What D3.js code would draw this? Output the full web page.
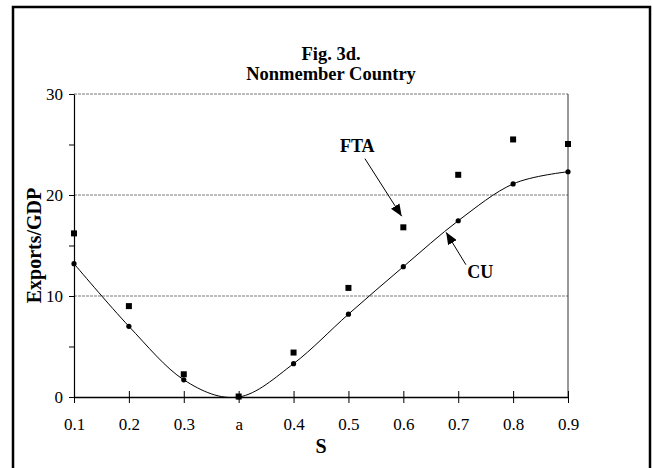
<!DOCTYPE html>
<html><head><meta charset="utf-8">
<script src="https://cdn.jsdelivr.net/npm/d3@7/dist/d3.min.js"></script>
<style>body{margin:0;background:#fff}svg{display:block;font-family:"Liberation Serif","Times New Roman",serif}</style>
</head><body><div id="chart"></div>
<script>
const categories = ["0.1","0.2","0.3","a","0.4","0.5","0.6","0.7","0.8","0.9"];
const cuValues  = [13.2, 7.0, 1.7, 0.0, 3.3, 8.2, 12.9, 17.45, 21.1, 22.3];
const ftaValues = [16.2, 9.0, 2.25, 0.05, 4.4, 10.8, 16.8, 22.0, 25.5, 25.05];
const yTicks = [0, 10, 20, 30];
const yMinorTicks = [0, 5, 10, 15, 20, 25, 30];
const gridValues = [10, 20, 30];
// annotations in data space: [category index, value]
const annotations = [
  {label:"FTA", text:[5.16, 24.3], from:[5.30, 23.6], to:[5.97, 17.9]},
  {label:"CU",  text:[7.40, 11.8], from:[7.14, 13.1], to:[6.78, 16.3]}
];

const W = 653, H = 468;
const svg = d3.select("#chart").append("svg").attr("width", W).attr("height", H);

// outer frame
svg.append("rect").attr("x", 13).attr("y", 7).attr("width", 637).attr("height", 480)
  .attr("fill", "none").attr("stroke", "#000").attr("stroke-width", 2.5);

const pL = 74, pR = 568, pT = 94, pB = 397;
const x = d3.scalePoint().domain(categories).range([pL, pR]);
const xi = d3.scaleLinear().domain([0, categories.length - 1]).range([pL, pR]);
const y = d3.scaleLinear().domain([0, 30]).range([pB, pT]);

const defs = svg.append("defs");
defs.append("clipPath").attr("id", "plotclip")
  .append("rect").attr("x", pL).attr("y", pT).attr("width", pR - pL).attr("height", pB - pT);

// gridlines
svg.append("g").selectAll("line").data(gridValues).join("line")
  .attr("x1", pL).attr("x2", pR).attr("y1", d => y(d)).attr("y2", d => y(d))
  .attr("stroke", "#7a7a7a").attr("stroke-width", 1).attr("stroke-dasharray", "3,1");

// right plot border
svg.append("line").attr("x1", pR).attr("x2", pR).attr("y1", pT).attr("y2", pB)
  .attr("stroke", "#333").attr("stroke-width", 1);

// y axis
const yAxis = svg.append("g").attr("transform", `translate(${pL},0)`)
  .call(d3.axisLeft(y).tickValues(yMinorTicks).tickSize(5).tickSizeOuter(0).tickFormat(d => yTicks.includes(d) ? d : ""));
yAxis.select(".domain").attr("stroke", "#000").attr("stroke-width", 1.2);
yAxis.selectAll(".tick line").attr("stroke", "#000");
yAxis.selectAll(".tick text").attr("font-family", "Liberation Serif").attr("font-size", 17).attr("fill", "#000").attr("x", -11);

// x axis
const xAxis = svg.append("g").attr("transform", `translate(0,${pB})`)
  .call(d3.axisBottom(x).tickSize(6).tickSizeOuter(0));
xAxis.select(".domain").attr("stroke", "#000").attr("stroke-width", 1.6);
xAxis.selectAll(".tick line").attr("stroke", "#000").attr("y1", -6).attr("y2", 6);
xAxis.selectAll(".tick text").attr("font-family", "Liberation Serif").attr("font-size", 17).attr("fill", "#000")
  .attr("dy", null).attr("y", 33);

// CU smooth line
const line = d3.line().x((d, i) => x(categories[i])).y(d => y(d)).curve(d3.curveCardinal.tension(0));
svg.append("path").datum(cuValues).attr("d", line).attr("clip-path", "url(#plotclip)")
  .attr("fill", "none").attr("stroke", "#000").attr("stroke-width", 1);

// CU markers
svg.append("g").selectAll("circle").data(cuValues).join("circle")
  .attr("cx", (d, i) => x(categories[i])).attr("cy", d => y(d)).attr("r", 2.6).attr("fill", "#000");

// FTA markers
svg.append("g").selectAll("rect").data(ftaValues).join("rect")
  .attr("x", (d, i) => x(categories[i]) - 3).attr("y", d => y(d) - 3)
  .attr("width", 6).attr("height", 6).attr("fill", "#000");

// arrow marker
defs.append("marker").attr("id", "arrow").attr("viewBox", "0 0 12 10")
  .attr("refX", 12).attr("refY", 5).attr("markerWidth", 12).attr("markerHeight", 10)
  .attr("markerUnits", "userSpaceOnUse").attr("orient", "auto")
  .append("path").attr("d", "M0,0 L12,5 L0,10 Z").attr("fill", "#000");

const ann = svg.append("g");
annotations.forEach(a => {
  ann.append("line").attr("x1", xi(a.from[0])).attr("y1", y(a.from[1]))
    .attr("x2", xi(a.to[0])).attr("y2", y(a.to[1]))
    .attr("stroke", "#000").attr("stroke-width", 1).attr("marker-end", "url(#arrow)");
  ann.append("text").attr("x", xi(a.text[0])).attr("y", y(a.text[1]))
    .attr("text-anchor", "middle").attr("font-weight", "bold").attr("font-size", 18).text(a.label);
});

// titles
svg.append("text").attr("x", 331).attr("y", 60).attr("text-anchor", "middle")
  .attr("font-weight", "bold").attr("font-size", 18.5).text("Fig. 3d.");
svg.append("text").attr("x", 331).attr("y", 80).attr("text-anchor", "middle")
  .attr("font-weight", "bold").attr("font-size", 18.5).text("Nonmember Country");

// axis titles
svg.append("text").attr("x", (pL + pR) / 2).attr("y", 453).attr("text-anchor", "middle")
  .attr("font-weight", "bold").attr("font-size", 20).text("S");
svg.append("text").attr("transform", `translate(41,${(pT + pB) / 2}) rotate(-90)`)
  .attr("text-anchor", "middle").attr("font-weight", "bold").attr("font-size", 20).text("Exports/GDP");
</script></body></html>
